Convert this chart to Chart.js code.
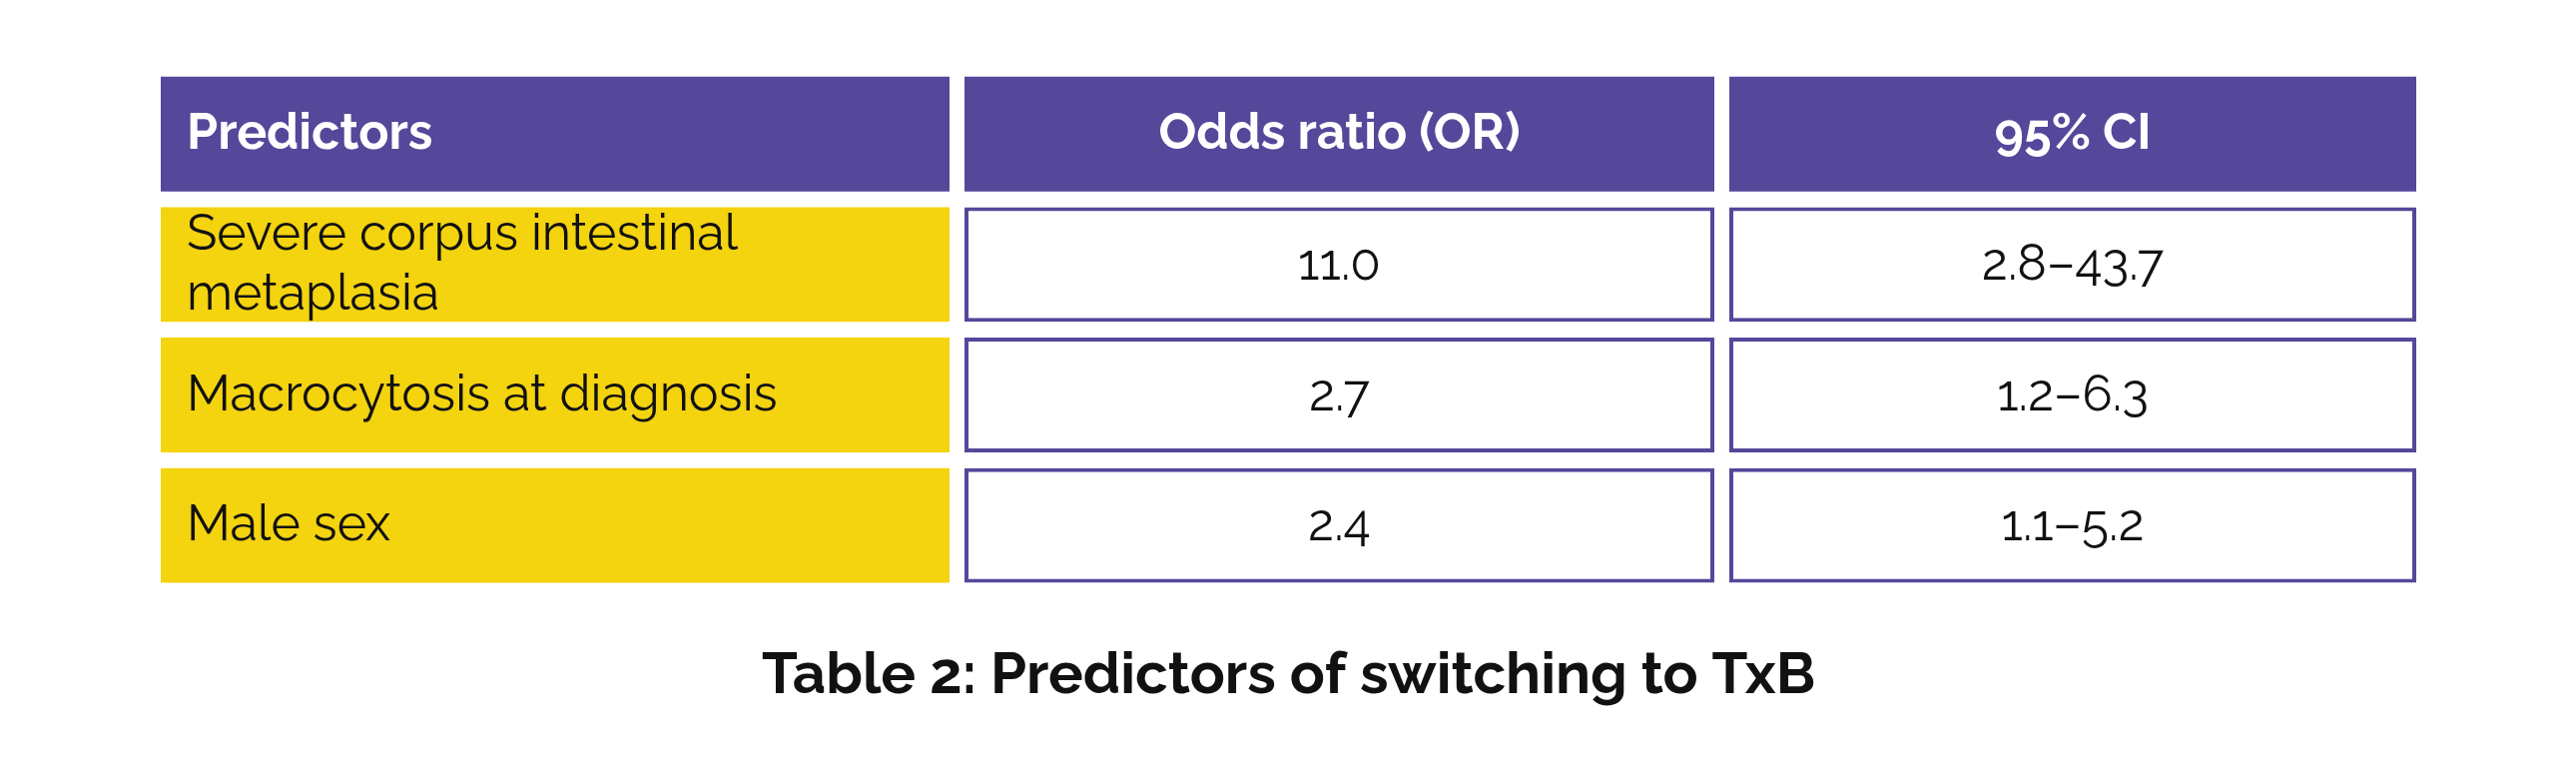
<!DOCTYPE html>
<html>
<head>
<meta charset="utf-8">
<title>Table 2: Predictors of switching to TxB</title>
<script src="https://cdn.jsdelivr.net/npm/chart.js@4"></script>
<style>
  html, body { margin: 0; padding: 0; background: #ffffff; }
  canvas { display: block; }
</style>
</head>
<body>
<canvas id="tabla" width="2580" height="783"></canvas>
<script>
// Table contents
const headers = ['Predictors', 'Odds ratio (OR)', '95% CI'];
const predictors = [['Severe corpus intestinal', 'metaplasia'], 'Macrocytosis at diagnosis', 'Male sex'];
const oddsRatios = [11.0, 2.7, 2.4];
const ciLow = [2.8, 1.2, 1.1];
const ciHigh = [43.7, 6.3, 5.2];
const titleText = 'Table 2: Predictors of switching to TxB';

// Layout: column spans on the x scale (pixels of the chart area)
const colSpans = [[0, 790], [805, 1556], [1571, 2259]];
const PURPLE = '#55479A';
const YELLOW = '#F4D30F';
const FONT = 'Raleway, Lato, "Open Sans", sans-serif';

const rowLabels = ['header'].concat(predictors.map((p, i) => 'row' + i));

// Text of every cell, column by column
function cellText(col, row) {
  if (row === 0) return headers[col];
  const i = row - 1;
  if (col === 0) return predictors[i];
  if (col === 1) return oddsRatios[i].toFixed(1);
  return `${ciLow[i].toFixed(1)}–${ciHigh[i].toFixed(1)}`;
}

const datasets = colSpans.map((span, col) => ({
  label: headers[col],
  data: rowLabels.map(() => span),
  backgroundColor: rowLabels.map((r, row) => row === 0 ? PURPLE : (col === 0 ? YELLOW : '#ffffff')),
  borderColor: PURPLE,
  borderWidth: rowLabels.map((r, row) => (row === 0 || col === 0) ? 0 : 4),
  borderSkipped: false,
  grouped: false,
  barPercentage: 0.88,
  categoryPercentage: 1
}));

// Draws the text inside the cells
const cellTextPlugin = {
  id: 'cellText',
  afterDatasetsDraw(chart) {
    const ctx = chart.ctx;
    ctx.save();
    ctx.textBaseline = 'middle';
    chart.data.datasets.forEach((ds, col) => {
      const meta = chart.getDatasetMeta(col);
      meta.data.forEach((bar, row) => {
        const left = Math.min(bar.x, bar.base);
        const right = Math.max(bar.x, bar.base);
        const text = cellText(col, row);
        const lines = Array.isArray(text) ? text : [text];
        ctx.font = (row === 0 ? 'bold ' : '') + '50px ' + FONT;
        ctx.fillStyle = row === 0 ? '#ffffff' : '#111111';
        let x;
        if (col === 0) {
          ctx.textAlign = 'left';
          x = left + 26;
        } else {
          ctx.textAlign = 'center';
          x = (left + right) / 2;
        }
        const lh = 60;
        const y0 = bar.y - (lines.length - 1) * lh / 2;
        lines.forEach((line, k) => ctx.fillText(line, x, y0 + k * lh));
      });
    });
    ctx.restore();
  }
};

new Chart(document.getElementById('tabla'), {
  type: 'bar',
  data: { labels: rowLabels, datasets: datasets },
  options: {
    indexAxis: 'y',
    responsive: false,
    animation: false,
    devicePixelRatio: 1,
    layout: { padding: { top: 69, left: 161, right: 160, bottom: 72 } },
    scales: {
      x: { type: 'linear', min: 0, max: 2259, display: false },
      y: { type: 'category', display: false }
    },
    plugins: {
      legend: { display: false },
      tooltip: { enabled: false },
      title: {
        display: true,
        text: titleText,
        position: 'bottom',
        color: '#111111',
        font: { family: FONT, size: 58, weight: 'bold', lineHeight: 1.2 },
        padding: { top: 50, bottom: 0 }
      }
    }
  },
  plugins: [cellTextPlugin]
});
</script>
</body>
</html>
